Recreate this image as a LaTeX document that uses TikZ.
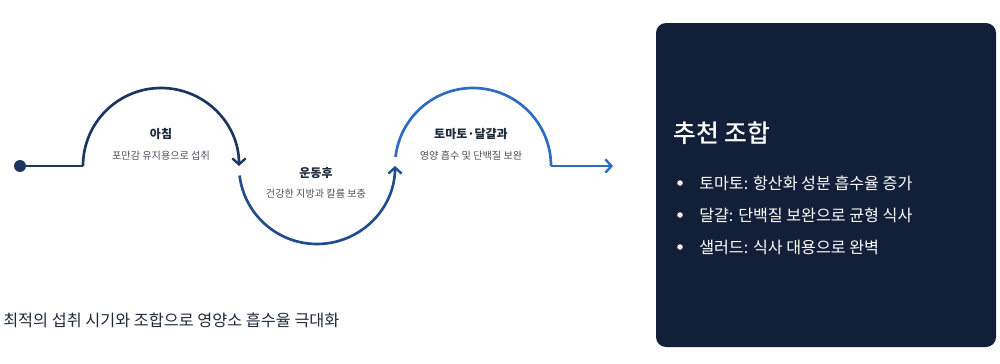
\documentclass[tikz,border=0pt]{standalone}
\usepackage{fontspec}
\setmainfont{Noto Sans CJK KR}
\newfontfamily\medfont{Noto Sans CJK KR Medium}
\usetikzlibrary{arrows.meta}
\definecolor{cA}{HTML}{1B365F}
\definecolor{cB}{HTML}{234C8C}
\definecolor{cC}{HTML}{2E6CC2}
\definecolor{panel}{HTML}{111F38}
\definecolor{ttl}{HTML}{1F2A3A}
\definecolor{sub}{HTML}{4A4F57}
\tikzset{
  flow/.style={line width=2pt, line cap=butt},
  tip/.style={-{Straight Barb[length=4.5pt,width=10pt,line width=1.8pt]}},
  stagetitle/.style={font=\bfseries\fontsize{9pt}{11pt}\selectfont, text=ttl, inner sep=0pt},
  stagesub/.style={font=\fontsize{7.6pt}{9pt}\selectfont, text=sub, inner sep=0pt},
  bullettext/.style={font=\fontsize{12.1pt}{14pt}\selectfont, text=white, anchor=west, inner sep=0pt},
  bulletdot/.style={circle, fill=white, minimum size=5.5*0.75pt, inner sep=0pt},
}
\begin{document}
\begin{tikzpicture}[x=0.75pt,y=-0.75pt]
\useasboundingbox (0,0) rectangle (1000,364);
% start dot
\node[circle, fill=cA, minimum size=12*0.75pt, inner sep=0pt] (dot) at (20,166) {};
\coordinate (a1s) at (83,166);
\coordinate (a2s) at ({317+78*cos(173)},{166+78*sin(173)});
\coordinate (a3s) at ({473+78*cos(186.6)},{166+78*sin(186.6)});
\coordinate (a3e) at (551,166);
\coordinate (endp) at (613,166);
% connectors
\draw[flow, cA] (dot.center) -- (a1s);
\draw[flow, cA, tip] (a1s) arc[start angle=180, end angle=360, radius=78];
\draw[flow, cB, tip] (a2s) arc[start angle=173, end angle=0, radius=78];
\draw[flow, cC] (a3s) arc[start angle=186.6, end angle=360, radius=78];
\draw[flow, cC, tip] (a3e) -- (endp);
% stage labels
\node[stagetitle] (t1) at (161,134) {아침};
\node[stagesub] (s1) at (161,156) {포만감 유지용으로 섭취};
\node[stagetitle] (t2) at (316,173) {운동후};
\node[stagesub] (s2) at (316,194) {건강한 지방과 칼륨 보충};
\node[stagetitle] (t3) at (471,134) {토마토·달걀과};
\node[stagesub] (s3) at (471,156) {영양 흡수 및 단백질 보완};
% bottom text
\node[anchor=west, inner sep=0pt, text=ttl, font=\fontsize{12.2pt}{14pt}\selectfont] (summary) at (3,320) {최적의 섭취 시기와 조합으로 영양소 흡수율 극대화};
% panel
\node[draw=none, fill=panel, rounded corners=7.5pt, minimum width=340*0.75pt, minimum height=324*0.75pt, inner sep=0pt] (panel) at (826,185) {};
\node[anchor=west, inner sep=0pt, text=white, font=\medfont\fontsize{18.6pt}{21pt}\selectfont] (ptitle) at (673,133) {추천 조합};
\node[bulletdot] (b1) at (680,183) {};
\node[bulletdot] (b2) at (680,215) {};
\node[bulletdot] (b3) at (680,247) {};
\node[bullettext] (r1) at (699,183) {토마토: 항산화 성분 흡수율 증가};
\node[bullettext] (r2) at (699,215) {달걀: 단백질 보완으로 균형 식사};
\node[bullettext] (r3) at (699,247) {샐러드: 식사 대용으로 완벽};
\end{tikzpicture}
\end{document}
